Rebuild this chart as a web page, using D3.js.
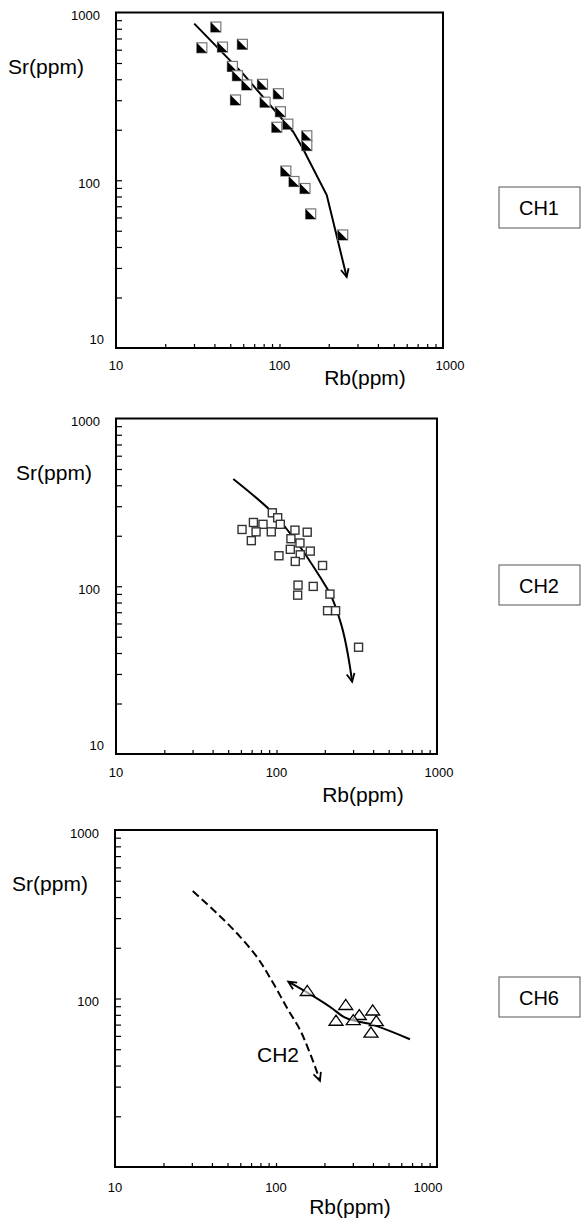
<!DOCTYPE html>
<html>
<head>
<meta charset="utf-8">
<script src="https://cdn.jsdelivr.net/npm/d3@7"></script>
<style>
  html, body { margin: 0; padding: 0; background: #fff; }
  svg { display: block; font-family: "Liberation Sans", Arial, Helvetica, sans-serif; }
</style>
</head>
<body>
<svg id="chart" width="581" height="1221"></svg>
<script>
// ---------------- DATA ----------------
const panelNames = ["CH1", "CH2", "CH6"];
const xTickLabels = [10, 100, 1000];
const yTickLabels = [1000, 100, 10];
const xAxisTitle = "Rb(ppm)";
const yAxisTitle = "Sr(ppm)";

// CH1 samples (half-filled squares)
const ch1Rb = [40.8, 33.5, 44.8, 59.3, 51.5, 55.3, 63.1, 78.7, 98.4, 53.8, 81.6, 101.3, 96.3, 112.5, 146.9, 146.9, 109.3, 122.7, 143.2, 155.2, 243.6];
const ch1Sr = [819, 616, 622, 646, 477, 420, 370, 373, 328, 301, 292, 256, 207, 216, 184, 161, 113.5, 98.3, 89.3, 63.0, 47.2];
// CH1 trend (polyline with arrow at end)
const ch1TrendRb = [30.1, 60.1, 121.6, 138.7, 194.5, 257.6];
const ch1TrendSr = [858, 429, 194, 155, 81.6, 26.5];

// CH2 samples (open squares)
const ch2Rb = [94.2, 101.7, 71.8, 82.4, 105.6, 61.0, 74.6, 92.8, 130.3, 155.4, 123.0, 140.0, 69.7, 121.9, 162.3, 140.6, 103.6, 130.9, 193.6, 136.2, 169.4, 135.5, 215.3, 208, 233.4, 324.5];
const ch2Sr = [274, 256, 240, 234, 234, 218, 211, 211, 216, 210, 192, 181, 187, 166, 162, 154, 152, 140.6, 133, 101.6, 99.8, 88.5, 89.8, 71.5, 71.5, 43.3];
// CH2 trend (smooth curve with arrow at end)
const ch2TrendRb = [53.8, 95.5, 140, 186.4, 215.3, 248.4, 296];
const ch2TrendSr = [436, 272, 172, 113.8, 90.6, 62.8, 27.0];

// CH6 samples (open triangles)
const ch6Rb = [156.4, 271, 398.7, 329, 235.9, 302, 419.6, 389];
const ch6Sr = [110.8, 91.5, 84.9, 79.8, 73.8, 74.5, 73.5, 62.7];
// CH6 trend (arrow at first point)
const ch6TrendRb = [119.1, 227, 261.8, 401.6, 679];
const ch6TrendSr = [125.8, 86.3, 78.0, 69.7, 57.3];
// CH2 reference trend shown dashed in CH6 panel (arrow at end)
const ch2RefRb = [30.4, 59.7, 75.9, 96.2, 119.1, 137.6, 162.6, 187.5];
const ch2RefSr = [434, 233, 177, 123, 85.5, 68.1, 47.3, 32.5];
const ch2RefLabel = "CH2";

// ---------------- LAYOUT ----------------
const layout = [
  { left: 116, right: 443, top: 12.5, bottom: 348, box: [499, 187, 81, 41],
    yTitle: [46, 74], xTitle: [365, 384.5], xLabBase: 370, x1000dx: 7, showY10: true },
  { left: 116, right: 437, top: 418.5, bottom: 754, box: [499, 565, 81, 40],
    yTitle: [54, 480], xTitle: [363, 801.5], xLabBase: 777, x1000dx: 2, showY10: true },
  { left: 115, right: 437, top: 830, bottom: 1167, box: [499, 977, 81, 40],
    yTitle: [50, 891], xTitle: [350, 1214], xLabBase: 1192, x1000dx: -9, showY10: false }
];

const svg = d3.select("#chart");

function minorTicks() {
  const t = [];
  [10, 100].forEach(d => { for (let k = 2; k <= 9; k++) t.push(d * k); });
  t.push(100);
  return t;
}

function arrowHead(g, tip, from, len = 9, ang = 0.45) {
  const a = Math.atan2(tip[1] - from[1], tip[0] - from[0]);
  const p1 = [tip[0] - len * Math.cos(a - ang), tip[1] - len * Math.sin(a - ang)];
  const p2 = [tip[0] - len * Math.cos(a + ang), tip[1] - len * Math.sin(a + ang)];
  g.append("path")
    .attr("d", `M${p1[0]},${p1[1]}L${tip[0]},${tip[1]}L${p2[0]},${p2[1]}`)
    .attr("fill", "none").attr("stroke", "#000").attr("stroke-width", 1.8)
    .attr("stroke-linejoin", "miter");
}

function drawPanel(i) {
  const L = layout[i];
  const x = d3.scaleLog().domain([10, 1000]).range([L.left, L.right]);
  const y = d3.scaleLog().domain([10, 1000]).range([L.bottom, L.top]);
  const g = svg.append("g");

  // inward ticks
  const yAxis = d3.axisLeft(y).tickValues(minorTicks()).tickSizeInner(-6).tickSizeOuter(0).tickFormat("");
  const ya = g.append("g").attr("transform", `translate(${L.left},0)`).call(yAxis);
  const xAxis = d3.axisBottom(x).tickValues(minorTicks()).tickSizeInner(-4).tickSizeOuter(0).tickFormat("");
  const xa = g.append("g").attr("transform", `translate(0,${L.bottom})`).call(xAxis);
  [ya, xa].forEach(a => {
    a.select(".domain").remove();
    a.selectAll("line").attr("stroke", "#000").attr("stroke-width", 1.2);
  });

  // frame
  g.append("rect")
    .attr("x", x(10)).attr("y", y(1000))
    .attr("width", x(1000) - x(10)).attr("height", y(10) - y(1000))
    .attr("fill", "none").attr("stroke", "#000").attr("stroke-width", 2);

  // y tick labels
  yTickLabels.forEach(v => {
    if (v === 10 && !L.showY10) return;
    const yy = v === 10 ? y(v) - 8.5 : y(v) + 3;
    g.append("text")
      .attr("x", v === 10 ? L.left - 12 : L.left - 16)
      .attr("y", yy).attr("dy", "0.35em")
      .attr("text-anchor", "end").attr("font-size", 13).text(v);
  });
  // x tick labels
  xTickLabels.forEach(v => {
    g.append("text")
      .attr("x", x(v) + (v === 1000 ? L.x1000dx : 0))
      .attr("y", L.xLabBase)
      .attr("text-anchor", "middle").attr("font-size", 13).text(v);
  });
  // axis titles
  g.append("text").attr("x", L.yTitle[0]).attr("y", L.yTitle[1])
    .attr("text-anchor", "middle").attr("font-size", 21).text(yAxisTitle);
  g.append("text").attr("x", L.xTitle[0]).attr("y", L.xTitle[1])
    .attr("text-anchor", "middle").attr("font-size", 21).text(xAxisTitle);

  // name box
  g.append("rect").attr("x", L.box[0]).attr("y", L.box[1])
    .attr("width", L.box[2]).attr("height", L.box[3])
    .attr("fill", "#fff").attr("stroke", "#555").attr("stroke-width", 1);
  g.append("text").attr("x", L.box[0] + 40).attr("y", L.box[1] + L.box[3] / 2 + 7.5)
    .attr("text-anchor", "middle").attr("font-size", 20).text(panelNames[i]);

  return { g, x, y };
}

// ---------- Panel 1: CH1 ----------
{
  const { g, x, y } = drawPanel(0);
  const pts = ch1TrendRb.map((d, k) => [x(d), y(ch1TrendSr[k])]);
  g.append("path").attr("d", d3.line().curve(d3.curveLinear)(pts))
    .attr("fill", "none").attr("stroke", "#000").attr("stroke-width", 2);
  arrowHead(g, pts[pts.length - 1], pts[pts.length - 2]);
  const s = 5;
  ch1Rb.forEach((d, k) => {
    const cx = x(d), cy = y(ch1Sr[k]);
    g.append("rect").attr("x", cx - s).attr("y", cy - s).attr("width", 2 * s).attr("height", 2 * s)
      .attr("fill", "#fff").attr("stroke", "#777").attr("stroke-width", 1.2);
    g.append("path").attr("d", `M${cx - s},${cy - s}L${cx - s},${cy + s}L${cx + s},${cy + s}Z`)
      .attr("fill", "#000");
  });
}

// ---------- Panel 2: CH2 ----------
{
  const { g, x, y } = drawPanel(1);
  const pts = ch2TrendRb.map((d, k) => [x(d), y(ch2TrendSr[k])]);
  g.append("path").attr("d", d3.line().curve(d3.curveMonotoneY)(pts))
    .attr("fill", "none").attr("stroke", "#000").attr("stroke-width", 2);
  arrowHead(g, pts[pts.length - 1], pts[pts.length - 2]);
  const s = 4;
  ch2Rb.forEach((d, k) => {
    g.append("rect").attr("x", x(d) - s).attr("y", y(ch2Sr[k]) - s)
      .attr("width", 2 * s).attr("height", 2 * s)
      .attr("fill", "#fff").attr("stroke", "#333").attr("stroke-width", 1.4);
  });
}

// ---------- Panel 3: CH6 ----------
{
  const { g, x, y } = drawPanel(2);
  const ref = ch2RefRb.map((d, k) => [x(d), y(ch2RefSr[k])]);
  g.append("path").attr("d", d3.line().curve(d3.curveMonotoneY)(ref))
    .attr("fill", "none").attr("stroke", "#000").attr("stroke-width", 2)
    .attr("stroke-dasharray", "8,4");
  arrowHead(g, ref[ref.length - 1], ref[ref.length - 2]);
  g.append("text").attr("x", 278).attr("y", 1061.5)
    .attr("text-anchor", "middle").attr("font-size", 21).text(ch2RefLabel);

  const tr = ch6TrendRb.map((d, k) => [x(d), y(ch6TrendSr[k])]);
  g.append("path").attr("d", d3.line().curve(d3.curveMonotoneX)(tr))
    .attr("fill", "none").attr("stroke", "#000").attr("stroke-width", 2);
  arrowHead(g, tr[0], tr[1]);

  ch6Rb.forEach((d, k) => {
    const cx = x(d), cy = y(ch6Sr[k]);
    g.append("path").attr("d", `M${cx - 7},${cy + 4.5}L${cx + 7},${cy + 4.5}L${cx},${cy - 5.5}Z`)
      .attr("fill", "#fff").attr("fill-opacity", 0.6).attr("stroke", "#000").attr("stroke-width", 1.3);
  });
}
</script>
</body>
</html>
